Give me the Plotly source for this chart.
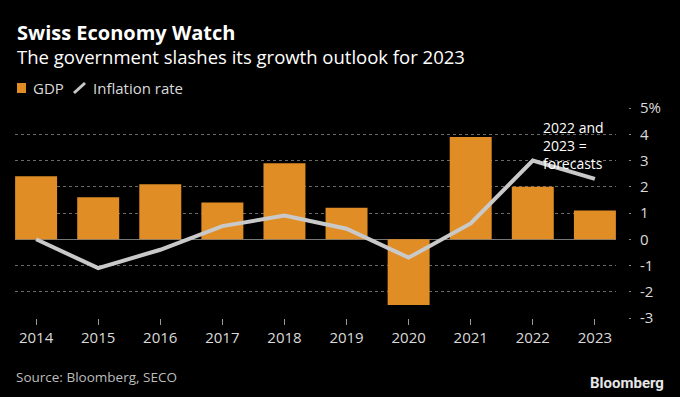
import plotly.graph_objects as go

years = ["2014", "2015", "2016", "2017", "2018", "2019", "2020", "2021", "2022", "2023"]
gdp = [2.4, 1.6, 2.1, 1.4, 2.9, 1.2, -2.5, 3.9, 2.0, 1.1]
inflation = [0.0, -1.1, -0.4, 0.5, 0.9, 0.4, -0.7, 0.6, 3.0, 2.3]
y_tickvals = [5, 4, 3, 2, 1, 0, -1, -2, -3]
y_ticktext = ["5%", "4", "3", "2", "1", "0", "-1", "-2", "-3"]

W, H = 680, 397
ML, MR, MT, MB = 15, 40, 108, 79
PW = W - ML - MR
PH = H - MT - MB
FONT = "Open Sans, Noto Sans, sans-serif"
ORANGE = "#E08D26"
LINE = "#C9C9C9"
TXT = "#DADADA"


def px(xp):
    return (xp - ML) / PW


def py(yp):
    return (H - MB - yp) / PH


fig = go.Figure()
fig.add_trace(go.Bar(x=years, y=gdp, marker=dict(color=ORANGE, line=dict(width=0)),
                     name="GDP", showlegend=False, yaxis="y"))
fig.add_trace(go.Scatter(x=years, y=inflation, mode="lines", line=dict(color=LINE, width=4),
                         name="Inflation rate", showlegend=False, yaxis="y2"))

annotations = [
    dict(text="<b>Swiss Economy Watch</b>", x=px(15), y=py(33), xanchor="left", yanchor="middle",
         font=dict(size=20, color="white", family=FONT)),
    dict(text="The government slashes its growth outlook for 2023", x=px(15), y=py(56),
         xanchor="left", yanchor="middle", font=dict(size=18.5, color="white", family=FONT)),
    dict(text="GDP", x=px(31), y=py(88), xanchor="left", yanchor="middle",
         font=dict(size=15, color=TXT, family=FONT)),
    dict(text="Inflation rate", x=px(91), y=py(88), xanchor="left", yanchor="middle",
         font=dict(size=15, color=TXT, family=FONT)),
    dict(text="2022 and<br>2023 =<br>forecasts", x=px(541), y=py(145), xanchor="left",
         yanchor="middle", align="left",
         font=dict(size=14, color="white", family=FONT)),
    dict(text="Source: Bloomberg, SECO", x=px(14), y=py(377), xanchor="left", yanchor="middle",
         font=dict(size=13.5, color="#BDBDBD", family=FONT)),
    dict(text="<b>Bloomberg</b>", x=px(666), y=py(383), xanchor="right", yanchor="middle",
         font=dict(size=15, color="#E6E6E6", family="Roboto, Open Sans, sans-serif")),
]
for a in annotations:
    a.update(xref="paper", yref="paper", showarrow=False)

shapes = [
    dict(type="rect", xref="paper", yref="paper", x0=px(17), x1=px(26), y0=py(93), y1=py(83),
         fillcolor=ORANGE, line=dict(width=0)),
    dict(type="line", xref="paper", yref="paper", x0=px(74), x1=px(85), y0=py(93), y1=py(83),
         line=dict(color=LINE, width=3)),
]

fig.update_layout(
    width=W, height=H,
    margin=dict(l=ML, r=MR, t=MT, b=MB, autoexpand=False),
    paper_bgcolor="black", plot_bgcolor="black",
    font=dict(family=FONT, color=TXT),
    bargap=0.324,
    showlegend=False,
    annotations=annotations,
    shapes=shapes,
    xaxis=dict(type="category", range=[-0.34, 9.34], domain=[0, px(616)],
               showgrid=False, showline=False, zeroline=False,
               ticks="outside", ticklen=6, tickwidth=1, tickcolor="#9A9A9A",
               tickfont=dict(size=15, color=TXT, family=FONT)),
    yaxis=dict(range=[-3, 5], tickvals=y_tickvals, showticklabels=False,
               showgrid=True, gridcolor="#6A6A6A", griddash="dot", gridwidth=1,
               zeroline=True, zerolinecolor="#777777", zerolinewidth=1,
               showline=False, ticks=""),
    yaxis2=dict(range=[-3, 5], overlaying="y", side="right", anchor="free", position=px(628),
                tickvals=y_tickvals, ticktext=y_ticktext, showgrid=False, zeroline=False,
                showline=False, ticks="outside", ticklen=2, tickwidth=1, tickcolor="#8A8A8A",
                ticklabelstandoff=6,
                tickfont=dict(size=15, color=TXT, family=FONT)),
)

fig.write_html(
    "out.html",
    config={"displayModeBar": False},
    post_script="document.body.style.margin='0';document.body.style.overflow='hidden';"
                "document.documentElement.style.background='black';",
)
